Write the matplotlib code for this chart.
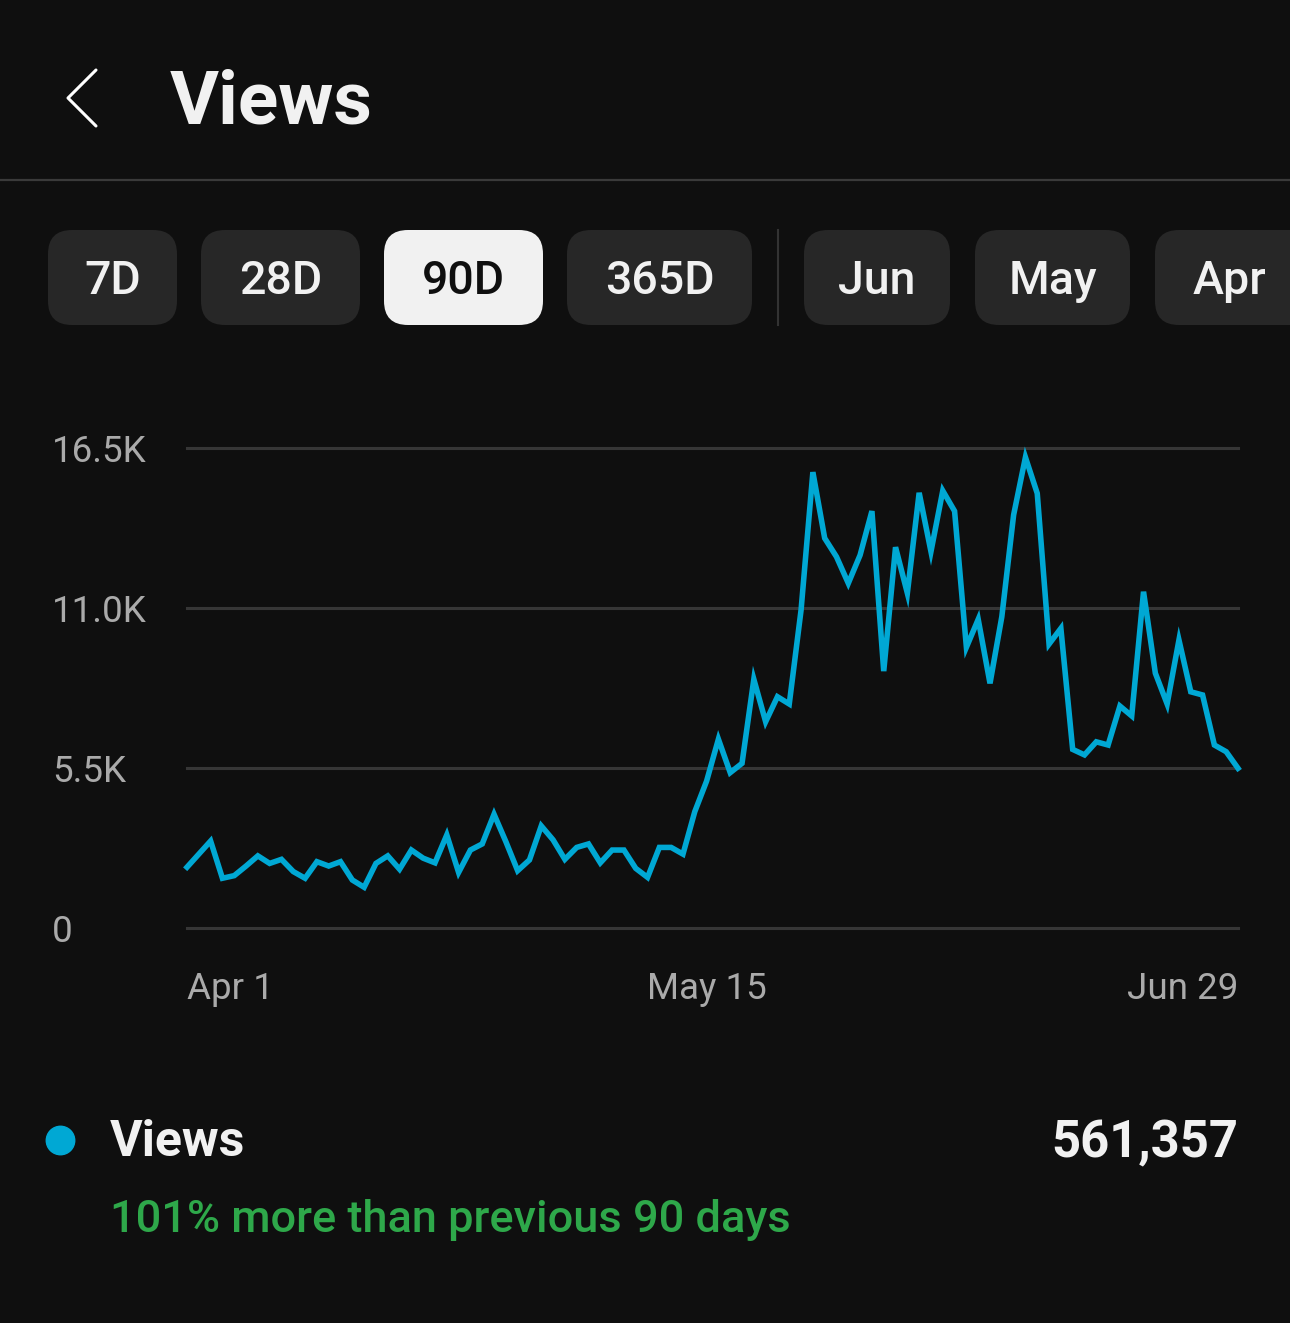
import matplotlib
matplotlib.use("Agg")
import matplotlib.pyplot as plt
import matplotlib.transforms as mtransforms
from matplotlib.patches import FancyBboxPatch
import numpy as np

plt.rcParams['font.family'] = ['Roboto', 'DejaVu Sans']

# daily views (thousands), Apr 1 .. Jun 29
views = [2.09, 2.54, 2.99, 1.71, 1.80, 2.13, 2.48, 2.22, 2.36, 1.94,
         1.71, 2.28, 2.13, 2.28, 1.65, 1.40, 2.22, 2.48, 2.02, 2.68,
         2.40, 2.24, 3.20, 1.91, 2.68, 2.89, 3.91, 2.97, 1.97, 2.34,
         3.51, 3.03, 2.36, 2.77, 2.89, 2.24, 2.68, 2.68, 2.05, 1.74,
         2.77, 2.77, 2.54, 4.00, 5.05, 6.49, 5.34, 5.66, 8.55, 7.09,
         7.95, 7.70, 10.93, 15.67, 13.40, 12.76, 11.85, 12.82, 14.33, 8.83,
         13.09, 11.51, 14.96, 12.94, 15.03, 14.33, 9.65, 10.61, 8.41, 10.70,
         14.20, 16.18, 14.94, 9.76, 10.30, 6.14, 5.95, 6.40, 6.29, 7.63,
         7.29, 11.56, 8.76, 7.70, 9.90, 8.12, 8.01, 6.29, 6.06, 5.49]
days = np.arange(len(views))

y_ticks = [0, 5.5, 11.0, 16.5]
y_labels = ["0", "5.5K", "11.0K", "16.5K"]
x_ticks = [0, 44, 89]
x_labels = ["Apr 1", "May 15", "Jun 29"]

periods = ["7D", "28D", "90D", "365D"]
months = ["Jun", "May", "Apr"]
total = "561,357"
change_text = "101% more than previous 90 days"

BG = "#0f0f0f"
CHIP = "#272727"
LINE = "#00a8d4"
GRID = "#363636"
W, H = 1290, 1323

fig = plt.figure(figsize=(W / 100, H / 100), dpi=100, facecolor=BG)

# background axes in pixel coordinates for the UI parts
bg = fig.add_axes([0, 0, 1, 1])
bg.set_xlim(0, W)
bg.set_ylim(H, 0)
bg.axis('off')
bg.set_facecolor(BG)

# header
bg.plot([96, 68, 96], [70, 98, 126], color="white", lw=2.2, solid_capstyle='round')
bg.text(170, 104, "Views", color="#f1f1f1", fontsize=54, fontweight='bold',
        va='center', ha='left')
bg.plot([0, W], [180, 180], color="#3a3a3a", lw=1.6)

# period chips
chips = [(48, 177), (201, 360), (384, 543), (567, 752)]
for (x0, x1), lab in zip(chips, periods):
    sel = lab == "90D"
    bg.add_patch(FancyBboxPatch((x0, 230), x1 - x0, 95,
                                boxstyle="round,pad=0,rounding_size=24",
                                fc="#f1f1f1" if sel else CHIP, ec='none'))
    bg.text((x0 + x1) / 2, 281, lab, color="#0f0f0f" if sel else "#f1f1f1",
            fontsize=33.5, fontweight='medium', ha='center', va='center')
bg.plot([778, 778], [230, 325], color="#333333", lw=1.5)
chips_m = [(804, 950), (975, 1130), (1155, 1330)]
for (x0, x1), lab in zip(chips_m, months):
    bg.add_patch(FancyBboxPatch((x0, 230), x1 - x0, 95,
                                boxstyle="round,pad=0,rounding_size=24",
                                fc=CHIP, ec='none', clip_on=True))
    cx = (x0 + x1) / 2 if x1 <= W else 1229
    bg.text(cx, 281, lab, color="#f1f1f1", fontsize=33.5, fontweight='medium',
            ha='center', va='center')

# chart
ax = fig.add_axes([187 / W, (H - 928) / H, 1051 / W, 480 / H])
ax.set_facecolor('none')
ax.set_xlim(0, 89)
ax.set_ylim(0, 16.5)
for s in ax.spines.values():
    s.set_visible(False)
for yv in y_ticks:
    ax.axhline(yv, color=GRID, lw=2.2, zorder=1, clip_on=False)
ax.plot(days, views, color=LINE, lw=4.0, zorder=3, clip_on=False,
        solid_joinstyle='miter')
ax.set_yticks([])
ax.set_xticks(x_ticks)
ax.set_xticklabels(x_labels, color="#aaaaaa", fontsize=26.5)
ax.tick_params(axis='x', length=0, pad=31)
for lbl, ha in zip(ax.get_xticklabels(), ['left', 'center', 'right']):
    lbl.set_ha(ha)

trans = mtransforms.blended_transform_factory(bg.transData, ax.transData)
trans = mtransforms.offset_copy(trans, fig=fig, y=-4, units='dots')
for yv, lab in zip(y_ticks, y_labels):
    ax.text(52, yv, lab, transform=trans, color="#aaaaaa", fontsize=26.5,
            ha='left', va='center')

# legend / summary
bg.scatter([60], [1140], s=420, color=LINE, zorder=3)
bg.text(110, 1143, "Views", color="#f1f1f1", fontsize=36, fontweight='bold',
        ha='left', va='center')
bg.text(1238, 1143, total, color="#f1f1f1", fontsize=36.5, fontweight='bold',
        ha='right', va='center')
bg.text(110, 1220, change_text, color="#2ea84a", fontsize=32.5,
        fontweight='medium', ha='left', va='center')

fig.savefig("out.png", dpi=100, facecolor=BG)
